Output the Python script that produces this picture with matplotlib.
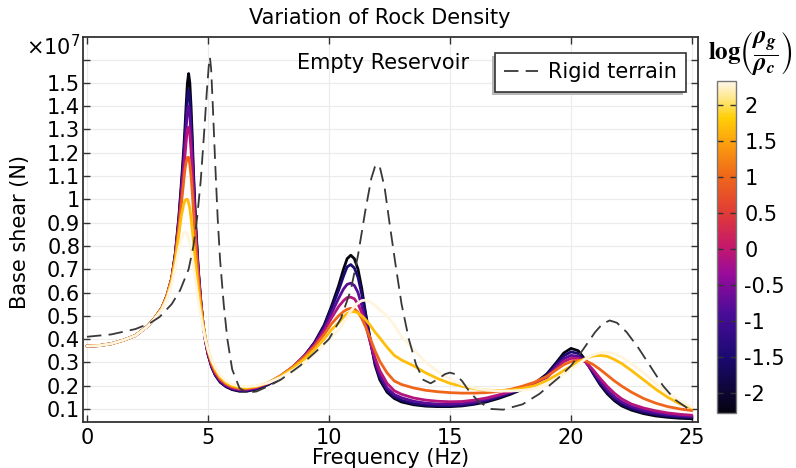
import matplotlib
matplotlib.use("Agg")
import matplotlib.pyplot as plt
from matplotlib.colors import LinearSegmentedColormap, Normalize
from matplotlib.patches import Rectangle
import matplotlib.cm as cm

# ---------------- data (base shear in units of 1e7 N) ----------------
freq = [0, 0.5, 1, 1.5, 2, 2.5, 2.8, 3.1, 3.3, 3.5,
        3.65, 3.8, 3.9, 4.0, 4.05, 4.1, 4.15, 4.2, 4.25, 4.3, 4.35, 4.4, 4.5, 4.6, 4.7, 4.8, 4.9, 5.0,
        5.15, 5.3, 5.5, 5.75, 6.0, 6.3, 6.6, 7.0, 7.5, 8.0, 8.5, 9.0, 9.4, 9.8, 10.1,
        10.4, 10.6, 10.75, 10.9, 11.05, 11.2, 11.35, 11.5, 11.7, 11.9, 12.1, 12.4, 12.7,
        13.0, 13.5, 14.0, 14.5, 15.0, 15.5, 16.0, 16.5, 17.0, 17.5, 18.0, 18.5,
        19.0, 19.4, 19.7, 20.0, 20.3, 20.6, 20.9, 21.2, 21.5, 21.8, 22.1, 22.5, 23.0, 23.5, 24.0, 24.5, 25.0]

log_ratio = [-2.3, -1.5, -0.8, -0.1, 1.0, 1.7, 2.3]

shear_m23 = [0.37, 0.372, 0.38, 0.395, 0.415, 0.455, 0.49, 0.535, 0.585, 0.66,
             0.77, 0.93, 1.07, 1.22, 1.31, 1.41, 1.50, 1.54, 1.50, 1.40, 1.27, 1.12, 0.88, 0.70, 0.57, 0.46, 0.39, 0.335,
             0.28, 0.245, 0.215, 0.195, 0.183, 0.176, 0.176, 0.185, 0.205, 0.235, 0.275, 0.33, 0.385, 0.46, 0.54,
             0.63, 0.70, 0.745, 0.76, 0.745, 0.70, 0.62, 0.52, 0.40, 0.29, 0.225, 0.172, 0.145,
             0.13, 0.118, 0.112, 0.11, 0.11, 0.113, 0.12, 0.13, 0.145, 0.163, 0.185, 0.21,
             0.25, 0.30, 0.34, 0.36, 0.35, 0.31, 0.255, 0.205, 0.165, 0.135, 0.113, 0.095, 0.08, 0.07, 0.064, 0.06, 0.058]
shear_m15 = [0.37, 0.372, 0.38, 0.395, 0.415, 0.455, 0.49, 0.535, 0.585, 0.66,
             0.765, 0.92, 1.05, 1.19, 1.27, 1.36, 1.44, 1.47, 1.43, 1.34, 1.22, 1.09, 0.86, 0.69, 0.565, 0.46, 0.39, 0.335,
             0.282, 0.247, 0.217, 0.197, 0.185, 0.178, 0.178, 0.187, 0.207, 0.237, 0.277, 0.33, 0.383, 0.455, 0.53,
             0.61, 0.67, 0.71, 0.72, 0.705, 0.665, 0.595, 0.51, 0.40, 0.30, 0.235, 0.18, 0.152,
             0.137, 0.123, 0.116, 0.113, 0.113, 0.116, 0.123, 0.134, 0.15, 0.167, 0.187, 0.21,
             0.245, 0.293, 0.328, 0.345, 0.338, 0.305, 0.258, 0.21, 0.172, 0.142, 0.12, 0.101, 0.086, 0.076, 0.069, 0.065, 0.063]
shear_m08 = [0.37, 0.372, 0.38, 0.395, 0.415, 0.455, 0.49, 0.535, 0.585, 0.66,
             0.76, 0.91, 1.03, 1.16, 1.24, 1.31, 1.38, 1.40, 1.36, 1.28, 1.18, 1.06, 0.85, 0.685, 0.56, 0.46, 0.39, 0.337,
             0.285, 0.25, 0.22, 0.2, 0.188, 0.181, 0.181, 0.19, 0.21, 0.24, 0.28, 0.33, 0.38, 0.445, 0.51,
             0.575, 0.615, 0.635, 0.64, 0.63, 0.60, 0.545, 0.48, 0.39, 0.305, 0.245, 0.19, 0.162,
             0.148, 0.133, 0.125, 0.121, 0.12, 0.123, 0.13, 0.141, 0.156, 0.172, 0.19, 0.21,
             0.24, 0.285, 0.315, 0.33, 0.326, 0.302, 0.262, 0.22, 0.182, 0.152, 0.13, 0.11, 0.094, 0.083, 0.076, 0.071, 0.068]
shear_m01 = [0.37, 0.372, 0.38, 0.395, 0.415, 0.455, 0.49, 0.535, 0.585, 0.66,
             0.755, 0.90, 1.01, 1.13, 1.19, 1.25, 1.30, 1.31, 1.28, 1.21, 1.12, 1.02, 0.83, 0.68, 0.56, 0.46, 0.392, 0.34,
             0.29, 0.255, 0.225, 0.204, 0.191, 0.184, 0.184, 0.192, 0.212, 0.242, 0.28, 0.328, 0.375, 0.435, 0.49,
             0.54, 0.565, 0.578, 0.58, 0.573, 0.55, 0.515, 0.465, 0.39, 0.32, 0.265, 0.21, 0.178,
             0.163, 0.147, 0.138, 0.133, 0.131, 0.132, 0.138, 0.147, 0.16, 0.175, 0.192, 0.211,
             0.235, 0.275, 0.303, 0.317, 0.317, 0.302, 0.27, 0.232, 0.197, 0.167, 0.143, 0.121, 0.104, 0.092, 0.083, 0.077, 0.073]
shear_p10 = [0.37, 0.372, 0.38, 0.395, 0.415, 0.455, 0.49, 0.535, 0.585, 0.66,
             0.75, 0.88, 0.98, 1.08, 1.13, 1.16, 1.18, 1.18, 1.15, 1.10, 1.03, 0.95, 0.795, 0.66, 0.555, 0.465, 0.40, 0.35,
             0.295, 0.26, 0.23, 0.208, 0.195, 0.188, 0.188, 0.195, 0.213, 0.243, 0.28, 0.325, 0.368, 0.42, 0.465,
             0.50, 0.518, 0.528, 0.532, 0.53, 0.515, 0.49, 0.455, 0.405, 0.35, 0.305, 0.255, 0.22,
             0.205, 0.19, 0.18, 0.174, 0.17, 0.168, 0.168, 0.17, 0.175, 0.184, 0.198, 0.215,
             0.24, 0.268, 0.29, 0.303, 0.309, 0.307, 0.292, 0.27, 0.245, 0.22, 0.198, 0.172, 0.145, 0.125, 0.11, 0.1, 0.093]
shear_p17 = [0.37, 0.372, 0.38, 0.395, 0.415, 0.455, 0.49, 0.533, 0.58, 0.652,
             0.74, 0.85, 0.93, 0.98, 0.995, 1.0, 1.0, 0.985, 0.96, 0.92, 0.87, 0.82, 0.715, 0.615, 0.53, 0.46, 0.40, 0.355,
             0.305, 0.27, 0.237, 0.213, 0.2, 0.192, 0.191, 0.197, 0.213, 0.24, 0.275, 0.315, 0.355, 0.40, 0.44,
             0.47, 0.495, 0.51, 0.517, 0.518, 0.512, 0.5, 0.485, 0.46, 0.43, 0.405, 0.365, 0.33,
             0.31, 0.285, 0.255, 0.23, 0.21, 0.197, 0.187, 0.181, 0.179, 0.181, 0.188, 0.2,
             0.222, 0.245, 0.265, 0.283, 0.302, 0.317, 0.327, 0.33, 0.326, 0.312, 0.295, 0.265, 0.225, 0.185, 0.15, 0.122, 0.103]
shear_p23 = [0.37, 0.372, 0.38, 0.395, 0.415, 0.454, 0.488, 0.528, 0.572, 0.635,
             0.71, 0.79, 0.83, 0.855, 0.86, 0.857, 0.848, 0.83, 0.81, 0.78, 0.75, 0.715, 0.64, 0.565, 0.50, 0.445, 0.395, 0.355,
             0.31, 0.278, 0.245, 0.22, 0.206, 0.198, 0.196, 0.2, 0.213, 0.235, 0.265, 0.3, 0.335, 0.375, 0.41,
             0.44, 0.47, 0.495, 0.52, 0.54, 0.555, 0.565, 0.567, 0.56, 0.545, 0.525, 0.50, 0.46,
             0.41, 0.355, 0.30, 0.26, 0.228, 0.205, 0.19, 0.181, 0.177, 0.177, 0.18, 0.187,
             0.205, 0.228, 0.25, 0.27, 0.292, 0.315, 0.332, 0.341, 0.343, 0.337, 0.322, 0.295, 0.255, 0.21, 0.17, 0.135, 0.107]

rigid_freq = [0, 1, 2, 2.6, 3.0, 3.5, 3.85, 4.2, 4.4, 4.55, 4.7, 4.85, 4.95, 5.03, 5.08, 5.13,
              5.2, 5.3, 5.4, 5.5, 5.65, 5.8, 6.0, 6.3, 6.6, 7.0, 7.5, 8.0, 8.8, 9.5, 10.0, 10.5,
              10.9, 11.2, 11.5, 11.75, 11.9, 12.0, 12.1, 12.3, 12.5, 12.75, 13.0, 13.3, 13.6,
              13.9, 14.2, 14.5, 14.8, 15.0, 15.2, 15.5, 15.8, 16.2, 16.7, 17.2, 18.0, 18.7,
              19.5, 20.0, 20.5, 21.0, 21.3, 21.6, 21.9, 22.3, 22.8, 23.3, 23.8, 24.3, 25.0]
rigid_shear = [0.41, 0.42, 0.443, 0.468, 0.495, 0.55, 0.61, 0.70, 0.80, 0.92, 1.08, 1.30, 1.46,
               1.57, 1.61, 1.56, 1.40, 1.15, 0.92, 0.74, 0.55, 0.40, 0.27, 0.19, 0.17, 0.175,
               0.198, 0.225, 0.285, 0.35, 0.40, 0.49, 0.61, 0.76, 0.95, 1.09, 1.14, 1.15, 1.14,
               1.05, 0.90, 0.72, 0.55, 0.40, 0.29, 0.225, 0.21, 0.228, 0.25, 0.256, 0.25, 0.22,
               0.175, 0.13, 0.10, 0.097, 0.12, 0.165, 0.235, 0.285, 0.355, 0.43, 0.465, 0.48,
               0.47, 0.43, 0.36, 0.28, 0.20, 0.14, 0.09]

series = [shear_m23, shear_m15, shear_m08, shear_m01, shear_p10, shear_p17, shear_p23]

x_ticks = [0, 5, 10, 15, 20, 25]
y_ticks = [0.1, 0.2, 0.3, 0.4, 0.5, 0.6, 0.7, 0.8, 0.9, 1.0, 1.1, 1.2, 1.3, 1.4, 1.5, 1.6]
cbar_ticks = [-2, -1.5, -1, -0.5, 0, 0.5, 1, 1.5, 2]

# ---------------- style ----------------
W, H = 796, 468
plt.rcParams['font.family'] = ['DejaVu Sans']
fs = 15

cmap = LinearSegmentedColormap.from_list("thermal", [
    (0.00, "#050310"), (0.17, "#1c0a72"), (0.30, "#4a0c98"), (0.42, "#9a0c9a"),
    (0.50, "#c4186c"), (0.60, "#e03a38"), (0.72, "#f06a18"), (0.82, "#fca30e"),
    (0.89, "#ffcf06"), (0.95, "#ffe88a"), (1.00, "#fff8ee")])
norm = Normalize(vmin=-2.28, vmax=2.34)

fig = plt.figure(figsize=(W / 100, H / 100), dpi=100)
ax = fig.add_axes([83 / W, 1 - 422 / H, (698 - 83) / W, (422 - 37) / H])

for vals, lr in zip(series, log_ratio):
    ax.plot(freq, vals, color=cmap(norm(lr)), lw=2.0, solid_capstyle='round',
            solid_joinstyle='round', zorder=3)

rigid_line, = ax.plot(rigid_freq, rigid_shear, color='#383838', lw=1.3,
                      linestyle=(0, (8, 4)), zorder=4)

ax.set_xlim(-0.165, 25.25)
ax.set_ylim(0.044, 1.697)
ax.set_xticks(x_ticks)
ax.set_xticklabels([str(t) for t in x_ticks])
ax.set_yticks(y_ticks)
ax.set_yticklabels(['' if abs(t - 1.6) < 1e-9 else f'{t:g}' for t in y_ticks])
ax.tick_params(axis='both', direction='in', top=True, right=True, length=5, width=1,
               labelsize=fs, color='#333333')
ax.tick_params(axis='y', pad=2)
ax.tick_params(axis='x', pad=4)
ax.grid(True, color='#ebebeb', lw=0.8, zorder=0)
for s in ax.spines.values():
    s.set_linewidth(1.3)
    s.set_color('#333333')

fig.text(380 / W, 1 - 18 / H, "Variation of Rock Density", ha='center', va='center', fontsize=fs)
fig.text(391 / W, 1 - 458 / H, "Frequency (Hz)", ha='center', va='center', fontsize=fs)
fig.text(20 / W, 1 - 232 / H, "Base shear (N)", ha='center', va='center', rotation=90, fontsize=fs)
fig.text(80 / W, 1 - 47 / H, r"$\times10^{7}$", ha='right', va='center', fontsize=fs)
fig.text(383 / W, 1 - 63 / H, "Empty Reservoir", ha='center', va='center', fontsize=fs)

leg = ax.legend([rigid_line], ["Rigid terrain"], loc='upper left',
                bbox_to_anchor=(495 / W, 1 - 53 / H), bbox_transform=fig.transFigure,
                fancybox=False, framealpha=1, edgecolor='#333333', borderaxespad=0,
                handlelength=1.6, fontsize=fs, borderpad=0.45, handletextpad=0.5)
leg.get_frame().set_linewidth(1.2)
leg.set_zorder(10)
fig.canvas.draw()
bb = leg.get_window_extent()
shadow = Rectangle((bb.x0 - 3, bb.y0 - 3), bb.width, bb.height, transform=None,
                   facecolor='#b8b8b8', edgecolor='none', zorder=9)
ax.add_artist(shadow)

# colorbar
cax = fig.add_axes([717 / W, 1 - 413 / H, 19 / W, (413 - 80.7) / H])
cb = fig.colorbar(cm.ScalarMappable(norm=norm, cmap=cmap), cax=cax, ticks=cbar_ticks)
cb.ax.set_yticklabels([f'{t:g}' for t in cbar_ticks])
cb.ax.tick_params(direction='in', left=True, right=True, length=4, width=1,
                  labelsize=fs, pad=6, color='#333333')
cb.outline.set_linewidth(1.0)
cb.outline.set_edgecolor('#777777')

fig.text(750 / W, 1 - 53 / H,
         r"$\mathbf{log}\left(\dfrac{\boldsymbol{\rho}_{\boldsymbol{g}}}{\boldsymbol{\rho}_{\boldsymbol{c}}}\right)$",
         ha='center', va='center', fontsize=18, math_fontfamily='stix')

fig.savefig("out.png", dpi=100)
